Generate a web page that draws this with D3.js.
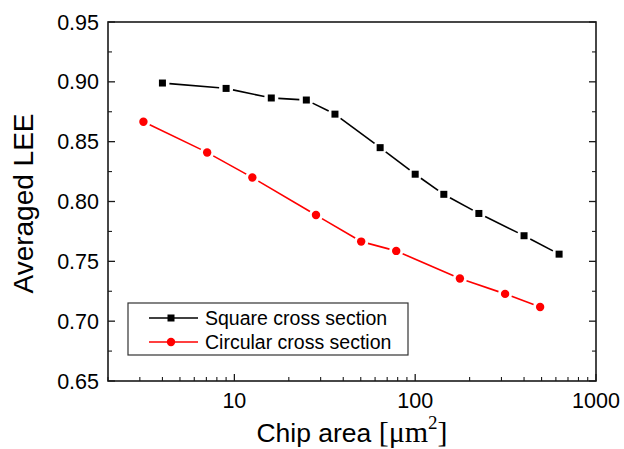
<!DOCTYPE html>
<html>
<head>
<meta charset="utf-8">
<script src="https://cdn.jsdelivr.net/npm/d3@7"></script>
<style>
  body { margin: 0; background: #fff; }
  text { font-family: "Liberation Sans", Arial, sans-serif; fill: #000; }
</style>
</head>
<body>
<div id="chart"></div>
<script>
// chip areas (um^2) and averaged LEE for both cross sections
var squareArea = [4, 9, 16, 25, 36, 64, 100, 144, 225, 400, 625];
var squareLEE = [0.899, 0.8945, 0.8865, 0.8848, 0.873, 0.845, 0.8228, 0.806, 0.790, 0.7714, 0.756];
var circleArea = [3.14, 7.07, 12.57, 28.27, 50.27, 78.54, 176.7, 314.2, 490.9];
var circleLEE = [0.8667, 0.841, 0.820, 0.7887, 0.7665, 0.7587, 0.7357, 0.7228, 0.7118];

var yTicks = [0.65, 0.70, 0.75, 0.80, 0.85, 0.90, 0.95];
var xTicks = [10, 100, 1000];
var seriesNames = ["Square cross section", "Circular cross section"];

var margin = { top: 22, right: 28, bottom: 68, left: 108 };
var width = 624 - margin.left - margin.right,
    height = 449 - margin.top - margin.bottom;

var svg = d3.select("#chart").append("svg")
    .attr("width", 624)
    .attr("height", 449)
  .append("g")
    .attr("transform", "translate(" + margin.left + "," + margin.top + ")");

var x = d3.scaleLog()
    .domain([2, 1000])
    .range([0, width]);

var y = d3.scaleLinear()
    .domain([0.65, 0.95])
    .range([height, 0]);

// minor ticks
var xMinor = [];
[1, 10, 100].forEach(function(d) {
  for (var k = 2; k <= 9; k++) {
    var v = d * k;
    if (v >= 2 && v <= 1000 && v != 10 && v != 100) xMinor.push(v);
  }
});
var yMinor = [0.675, 0.725, 0.775, 0.825, 0.875, 0.925];

// frame
svg.append("rect")
    .attr("width", width)
    .attr("height", height)
    .attr("fill", "none")
    .attr("stroke", "#1a1a1a")
    .attr("stroke-width", 1.6);

// x axis ticks (inward)
svg.selectAll(".xmaj").data(xTicks).enter().append("line")
    .attr("x1", function(d) { return x(d); })
    .attr("x2", function(d) { return x(d); })
    .attr("y1", height).attr("y2", height - 7)
    .attr("stroke", "#1a1a1a").attr("stroke-width", 1.3);
svg.selectAll(".xmin").data(xMinor).enter().append("line")
    .attr("x1", function(d) { return x(d); })
    .attr("x2", function(d) { return x(d); })
    .attr("y1", height).attr("y2", height - 4)
    .attr("stroke", "#1a1a1a").attr("stroke-width", 1.1);
svg.selectAll(".xlab").data(xTicks).enter().append("text")
    .attr("x", function(d) { return x(d); })
    .attr("y", height + 27)
    .attr("text-anchor", "middle")
    .attr("font-size", 21.5)
    .text(function(d) { return d; });

// y axis ticks, left and right
[0, width].forEach(function(side) {
  var dir = side == 0 ? 1 : -1;
  svg.selectAll(".ymaj" + side).data(yTicks).enter().append("line")
      .attr("x1", side).attr("x2", side + dir * 7)
      .attr("y1", function(d) { return y(d); })
      .attr("y2", function(d) { return y(d); })
      .attr("stroke", "#1a1a1a").attr("stroke-width", 1.3);
  svg.selectAll(".ymin" + side).data(yMinor).enter().append("line")
      .attr("x1", side).attr("x2", side + dir * 4)
      .attr("y1", function(d) { return y(d); })
      .attr("y2", function(d) { return y(d); })
      .attr("stroke", "#1a1a1a").attr("stroke-width", 1.1);
});
svg.selectAll(".ylab").data(yTicks).enter().append("text")
    .attr("x", -9)
    .attr("y", function(d) { return y(d) + 7.5; })
    .attr("text-anchor", "end")
    .attr("font-size", 21.5)
    .text(function(d) { return d.toFixed(2); });

// axis titles
svg.append("text")
    .attr("transform", "translate(-75," + (height / 2 + 2) + ") rotate(-90)")
    .attr("text-anchor", "middle")
    .attr("font-size", 28)
    .text("Averaged LEE");

var xt = svg.append("text")
    .attr("x", width / 2)
    .attr("y", height + 61)
    .attr("text-anchor", "middle")
    .attr("font-size", 26.5);
xt.append("tspan").text("Chip area ");
xt.append("tspan")
    .attr("font-family", "'Liberation Serif', 'Times New Roman', serif")
    .attr("font-size", 30)
    .text("[\u03bcm");
xt.append("tspan")
    .attr("font-family", "'Liberation Serif', 'Times New Roman', serif")
    .attr("font-size", 19)
    .attr("dy", -13)
    .text("2");
xt.append("tspan")
    .attr("font-family", "'Liberation Serif', 'Times New Roman', serif")
    .attr("font-size", 30)
    .attr("dy", 13)
    .text("]");

// series lines with small gaps round the markers
function drawSeries(xs, ys, color) {
  var pts = xs.map(function(d, i) { return [x(d), y(ys[i])]; });
  var segs = [];
  for (var i = 0; i < pts.length - 1; i++) {
    var dx = pts[i + 1][0] - pts[i][0], dy = pts[i + 1][1] - pts[i][1];
    var len = Math.sqrt(dx * dx + dy * dy), gap = 7;
    segs.push({
      x1: pts[i][0] + dx * gap / len, y1: pts[i][1] + dy * gap / len,
      x2: pts[i + 1][0] - dx * gap / len, y2: pts[i + 1][1] - dy * gap / len
    });
  }
  svg.selectAll(null).data(segs).enter().append("line")
      .attr("x1", function(d) { return d.x1; })
      .attr("y1", function(d) { return d.y1; })
      .attr("x2", function(d) { return d.x2; })
      .attr("y2", function(d) { return d.y2; })
      .attr("stroke", color)
      .attr("stroke-width", 1.6);
  return pts;
}

var sq = drawSeries(squareArea, squareLEE, "#000");
svg.selectAll(".sq").data(sq).enter().append("rect")
    .attr("x", function(d) { return d[0] - 3.5; })
    .attr("y", function(d) { return d[1] - 3.5; })
    .attr("width", 7).attr("height", 7)
    .attr("fill", "#000");

var ci = drawSeries(circleArea, circleLEE, "#ff0000");
svg.selectAll(".ci").data(ci).enter().append("circle")
    .attr("cx", function(d) { return d[0]; })
    .attr("cy", function(d) { return d[1]; })
    .attr("r", 4.2)
    .attr("fill", "#ff0000");

// legend
var lg = svg.append("g").attr("transform", "translate(20,281)");
lg.append("rect")
    .attr("width", 280).attr("height", 52)
    .attr("fill", "#fff")
    .attr("stroke", "#333").attr("stroke-width", 1.2);
var colors = ["#000", "#ff0000"];
seriesNames.forEach(function(name, i) {
  var ly = 15 + i * 24;
  lg.append("line")
      .attr("x1", 21).attr("x2", 70)
      .attr("y1", ly).attr("y2", ly)
      .attr("stroke", colors[i]).attr("stroke-width", 1.6);
  if (i == 0) {
    lg.append("rect").attr("x", 39.5).attr("y", ly - 3.5)
        .attr("width", 7).attr("height", 7).attr("fill", "#000");
  } else {
    lg.append("circle").attr("cx", 43).attr("cy", ly)
        .attr("r", 4.2).attr("fill", "#ff0000");
  }
  lg.append("text")
      .attr("x", 77).attr("y", ly + 7)
      .attr("font-size", 19.5)
      .text(name);
});
</script>
</body>
</html>
